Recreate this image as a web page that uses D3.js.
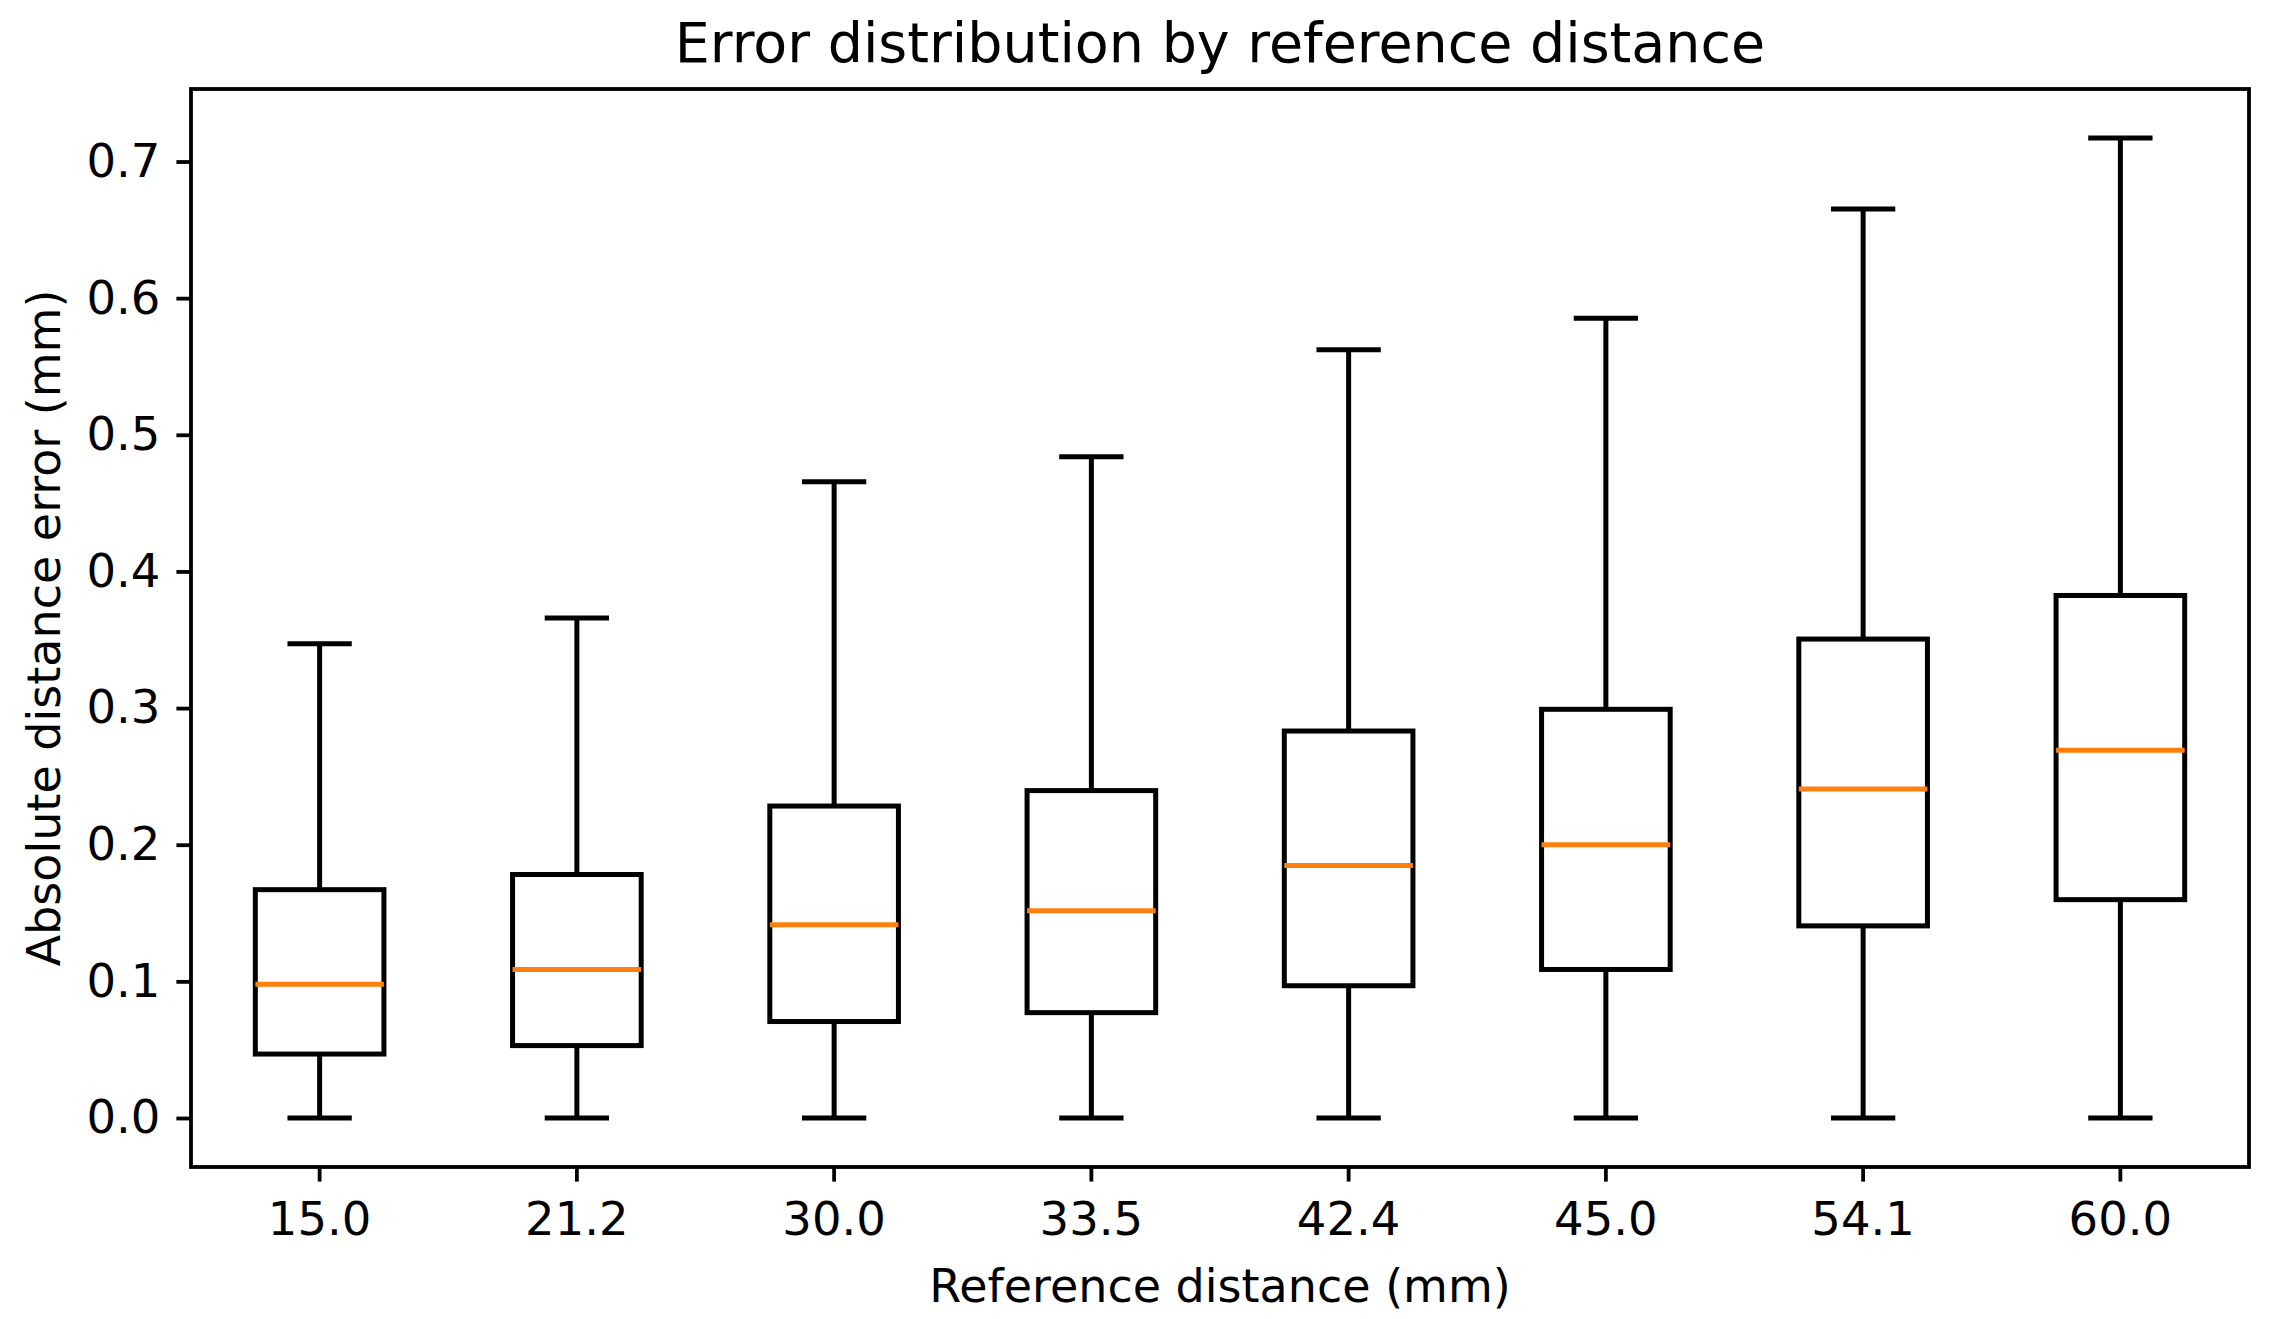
<!DOCTYPE html>
<html>
<head>
<meta charset="utf-8">
<script src="https://cdn.jsdelivr.net/npm/d3@7"></script>
<style>
  body { margin: 0; background: #fff; }
  text { font-family: "DejaVu Sans", sans-serif; fill: #000; }
</style>
</head>
<body>
<div id="chart"></div>
<script>
// Data
const categories = ["15.0", "21.2", "30.0", "33.5", "42.4", "45.0", "54.1", "60.0"];
const whiskerLow = [0, 0, 0, 0, 0, 0, 0, 0];
const q1 = [0.0468, 0.0530, 0.0706, 0.0771, 0.0968, 0.1087, 0.1406, 0.1598];
const median = [0.0979, 0.1087, 0.1414, 0.1517, 0.1847, 0.1999, 0.2407, 0.2691];
const q3 = [0.1671, 0.1782, 0.2283, 0.2396, 0.2832, 0.2991, 0.3505, 0.3824];
const whiskerHigh = [0.347, 0.366, 0.4656, 0.4839, 0.5623, 0.5853, 0.6652, 0.7172];
const yTicks = [0, 0.1, 0.2, 0.3, 0.4, 0.5, 0.6, 0.7];

const width = 2276;
const height = 1319;
const margin = {
  top: 89,
  right: 27,
  bottom: 152,
  left: 191
}

const tickSize = 14.6;
const lineW = 5;
const fontSize = 46.5;

const svg = d3.select("#chart").append("svg")
    .attr("width", width)
    .attr("height", height)
    .attr("viewBox", [0, 0, width, height]);

// build box records
const boxes = categories.map((c, i) => ({
  name: c,
  low: whiskerLow[i],
  q1: q1[i],
  median: median[i],
  q3: q3[i],
  high: whiskerHigh[i]
}));

// SCALES

const x = d3.scaleBand()
    .domain(categories)
    .range([margin.left, width - margin.right])
    .padding(0);

// matplotlib style 5% margins
const yMin = d3.min(whiskerLow), yMax = d3.max(whiskerHigh);
const pad = (yMax - yMin) * 0.05;

const y = d3.scaleLinear()
    .domain([yMin - pad, yMax + pad])
    .range([height - margin.bottom, margin.top]);

const bw = x.bandwidth();
const cx = d => x(d.name) + bw / 2;

// AXES

const xAxis = d3.axisBottom(x)
    .tickSize(tickSize)
    .tickSizeOuter(0)
    .tickPadding(20);

const yAxis = d3.axisLeft(y)
    .tickValues(yTicks)
    .tickSize(tickSize)
    .tickSizeOuter(0)
    .tickPadding(16)
    .tickFormat(d3.format(".1f"));

const gx = svg.append("g")
    .attr("transform", `translate(0, ${height - margin.bottom})`)
    .call(xAxis);

const gy = svg.append("g")
    .attr("transform", `translate(${margin.left}, 0)`)
    .call(yAxis);

[gx, gy].forEach(g => {
  g.select(".domain").remove();
  g.selectAll(".tick line").attr("stroke", "#000").attr("stroke-width", 3.8);
  g.selectAll(".tick text")
      .style("font-family", "'DejaVu Sans', sans-serif")
      .style("font-size", fontSize + "px")
      .attr("fill", "#000");
});

// BOXES

const g = svg.append("g")
    .attr("fill", "none")
    .attr("stroke", "#000")
    .attr("stroke-width", lineW);

// whiskers
g.selectAll("line.whiskerLow")
    .data(boxes)
    .enter()
    .append("line")
    .attr("class", "whiskerLow")
    .attr("x1", cx).attr("x2", cx)
    .attr("y1", d => y(d.q1)).attr("y2", d => y(d.low));

g.selectAll("line.whiskerHigh")
    .data(boxes)
    .enter()
    .append("line")
    .attr("class", "whiskerHigh")
    .attr("x1", cx).attr("x2", cx)
    .attr("y1", d => y(d.q3)).attr("y2", d => y(d.high));

// caps
g.selectAll("line.capLow")
    .data(boxes)
    .enter()
    .append("line")
    .attr("class", "capLow")
    .attr("x1", d => cx(d) - bw * 0.125).attr("x2", d => cx(d) + bw * 0.125)
    .attr("y1", d => y(d.low)).attr("y2", d => y(d.low));

g.selectAll("line.capHigh")
    .data(boxes)
    .enter()
    .append("line")
    .attr("class", "capHigh")
    .attr("x1", d => cx(d) - bw * 0.125).attr("x2", d => cx(d) + bw * 0.125)
    .attr("y1", d => y(d.high)).attr("y2", d => y(d.high));

// box
g.selectAll("rect.box")
    .data(boxes)
    .enter()
    .append("rect")
    .attr("class", "box")
    .attr("x", d => cx(d) - bw * 0.25)
    .attr("width", bw * 0.5)
    .attr("y", d => y(d.q3))
    .attr("height", d => y(d.q1) - y(d.q3))
    .attr("stroke-linejoin", "miter");

// medians
g.selectAll("line.median")
    .data(boxes)
    .enter()
    .append("line")
    .attr("class", "median")
    .attr("stroke", "#ff7f0e")
    .attr("x1", d => cx(d) - bw * 0.25).attr("x2", d => cx(d) + bw * 0.25)
    .attr("y1", d => y(d.median)).attr("y2", d => y(d.median));

// FRAME

svg.append("rect")
    .attr("x", margin.left)
    .attr("y", margin.top)
    .attr("width", width - margin.left - margin.right)
    .attr("height", height - margin.top - margin.bottom)
    .attr("fill", "none")
    .attr("stroke", "#000")
    .attr("stroke-width", 3.8);

// LABELS

const plotCx = (margin.left + width - margin.right) / 2;
const plotCy = (margin.top + height - margin.bottom) / 2;

svg.append("text")
    .attr("x", plotCx)
    .attr("y", 62)
    .attr("text-anchor", "middle")
    .style("font-size", "55.5px")
    .text("Error distribution by reference distance");

svg.append("text")
    .attr("x", plotCx)
    .attr("y", 1302)
    .attr("text-anchor", "middle")
    .style("font-size", "46px")
    .text("Reference distance (mm)");

svg.append("text")
    .attr("transform", `translate(60, ${plotCy}) rotate(-90)`)
    .attr("text-anchor", "middle")
    .style("font-size", "46px")
    .text("Absolute distance error (mm)");
</script>
</body>
</html>
